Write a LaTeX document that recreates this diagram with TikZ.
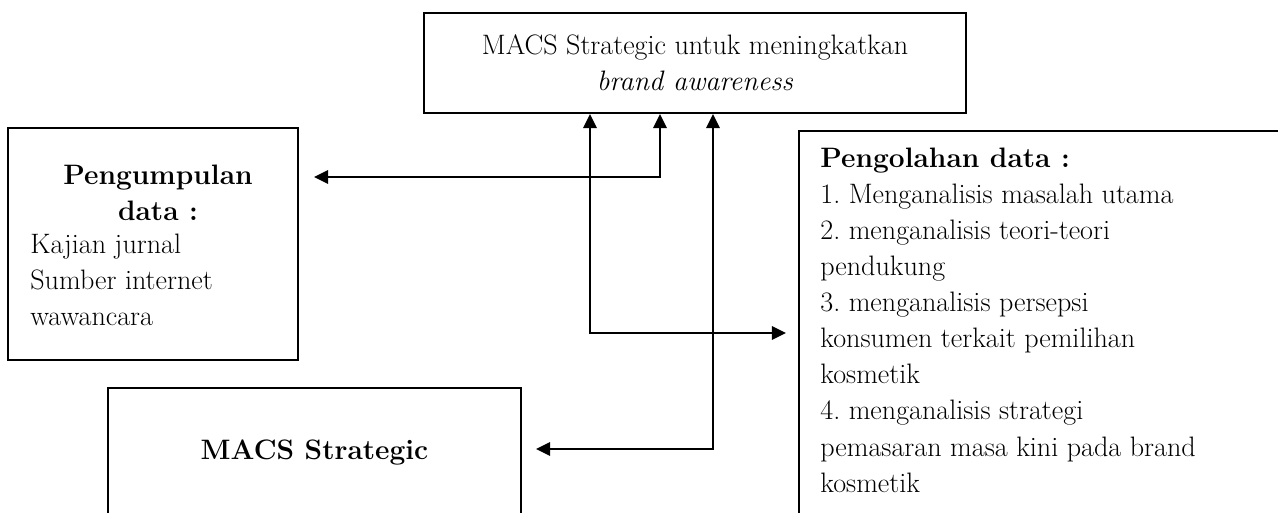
\documentclass[tikz,border=0pt]{standalone}
\usepackage{tikz}
\usetikzlibrary{calc}
\usetikzlibrary{fit}
\usetikzlibrary{arrows.meta}
\tikzset{
    frame/.style={draw, line width=1.1pt, inner sep=0pt},
    link/.style={line width=1.3pt, {Triangle[length=8pt,width=7.5pt]}-{Triangle[length=8pt,width=7.5pt]}},
    txt/.style={font=\fontsize{16}{20.5}\selectfont\frenchspacing, inner sep=0pt}
}

\begin{document}
\begin{tikzpicture}[x=0.02cm, y=-0.02cm]
\useasboundingbox (0,0) rectangle (1278,513);
\clip (0,0) rectangle (1278,513);
% boxes (the right and bottom ones run off the page)
\node[frame, fit={(424,13) (966,113)}] (goal) {};
\node[frame, fit={(8,128) (298,360)}] (collect) {};
\node[frame, fit={(799,131) (1300,530)}] (process) {};
\node[frame, fit={(108,388) (521,530)}] (strategic) {};
% texts
\node[txt, align=center] (goaltxt) at (goal.center) {MACS Strategic untuk meningkatkan\\ \textit{brand awareness}};
\node[txt, align=center] (collecthead) at (158,193) {\textbf{Pengumpulan}\\ \textbf{data :}};
\node[txt, align=left, anchor=north west] (collectitems) at (30,234) {Kajian jurnal\\Sumber internet\\wawancara};
\node[txt, align=left, anchor=north west] (processtxt) at (820,148) {\textbf{Pengolahan data :}\\
1. Menganalisis masalah utama\\
2. menganalisis teori-teori\\
pendukung\\
3. menganalisis persepsi\\
konsumen terkait pemilihan\\
kosmetik\\
4. menganalisis strategi\\
pemasaran masa kini pada brand\\
kosmetik};
\node[txt] (strattxt) at (strategic.center |- 0,452) {\textbf{MACS Strategic}};
% connectors
\coordinate (j1) at (590,333);
\coordinate (j2) at (660,177);
\coordinate (j3) at (713,449);
\draw[link] (j1 |- goal.south) -- (j1) -- ($(process.west |- j1)+(-12,0)$);
\draw[link] (j2 |- goal.south) -- (j2) -- ($(collect.east |- j2)+(15,0)$);
\draw[link] (j3 |- goal.south) -- (j3) -- ($(strategic.east |- j3)+(14,0)$);
\end{tikzpicture}
\end{document}
